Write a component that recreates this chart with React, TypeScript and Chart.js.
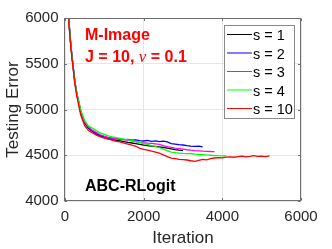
import React, { useEffect, useRef } from "react";
import { Chart, registerables } from "chart.js";

Chart.register(...registerables);

const iterations = [
  20, 50, 100, 150, 200, 250, 300, 400, 500, 600, 700, 800, 900, 1000,
  1100, 1200, 1300, 1400, 1500, 1600, 1700, 1800, 1900, 2000,
  2100, 2200, 2300, 2400, 2500, 2600, 2700, 2800, 2900, 3000,
  3100, 3200, 3300, 3400, 3500, 3600, 3700, 3800, 3900, 4000,
  4100, 4200, 4300, 4400, 4500, 4600, 4700, 4800, 4900, 5000,
  5100, 5200,
];

const seriesLabels = ["s = 1", "s = 2", "s = 3", "s = 4", "s = 10"];
const seriesColors = ["#000000", "#0000ff", "#ff00ff", "#00ff00", "#ff0000"];

const errS1 = [
  7600, 6700, 5950, 5690, 5490, 5300, 5170, 4965, 4850, 4795, 4760, 4730, 4712, 4694,
  4680, 4672, 4662, 4656, 4648, 4640, 4634, 4628, 4620, 4610,
  4606, 4600, 4597, 4590, 4586, 4578, 4570, 4562, 4556, 4552,
];
const errS2 = [
  7620, 6720, 5970, 5700, 5500, 5310, 5180, 4980, 4860, 4800, 4765, 4738, 4714, 4700,
  4690, 4684, 4678, 4676, 4670, 4672, 4666, 4668, 4660, 4656,
  4662, 4652, 4658, 4650, 4654, 4645, 4628, 4622, 4615, 4612,
  4605, 4600, 4596, 4600, 4592,
];
const errS3 = [
  7610, 6710, 5965, 5695, 5495, 5305, 5178, 4985, 4867, 4806, 4773, 4748, 4724, 4708,
  4696, 4688, 4682, 4676, 4670, 4664, 4657, 4650, 4640, 4636,
  4632, 4630, 4625, 4618, 4605, 4595, 4585, 4578, 4572, 4566,
  4560, 4555, 4551, 4548, 4545, 4543, 4541, 4540,
];
const errS4 = [
  7600, 6690, 5955, 5690, 5495, 5305, 5180, 4995, 4878, 4818, 4795, 4766, 4745, 4728,
  4712, 4702, 4692, 4684, 4676, 4668, 4660, 4650, 4640, 4628,
  4618, 4606, 4596, 4582, 4568, 4550, 4535, 4528, 4524, 4520,
  4517, 4519, 4513, 4510, 4507, 4503, 4500, 4497, 4495, 4494,
  4493,
];
const errS10 = [
  7580, 6650, 5930, 5670, 5470, 5280, 5145, 4940, 4822, 4770, 4744, 4720, 4702, 4688,
  4675, 4666, 4652, 4645, 4632, 4622, 4612, 4598, 4575, 4565,
  4556, 4545, 4535, 4522, 4505, 4485, 4468, 4462, 4456, 4452,
  4448, 4440, 4433, 4445, 4455, 4450, 4462, 4470, 4475, 4472,
  4480, 4482, 4478, 4486, 4490, 4482, 4488, 4495, 4487, 4490,
  4486, 4494,
];
const seriesValues = [errS1, errS2, errS3, errS4, errS10];

const xTicks = [0, 2000, 4000, 6000];
const yTicks = [4000, 4500, 5000, 5500, 6000];

const FONT = "'Liberation Sans', Arial, Helvetica, sans-serif";
const AXIS_COLOR = "#6e6e6e";
const TEXT_COLOR = "#262626";

const boxPlugin = {
  id: "boxPlugin",
  afterDatasetsDraw(chart: any) {
    const { ctx, chartArea } = chart;
    const { left, right, top, bottom } = chartArea;
    const xs = chart.scales.x;
    const ys = chart.scales.y;
    ctx.save();
    ctx.strokeStyle = AXIS_COLOR;
    ctx.lineWidth = 1;
    const l = Math.round(left) - 0.5;
    const r = Math.round(right) - 0.5;
    const t = Math.round(top) + 0.5;
    const b = Math.round(bottom) - 0.5;
    ctx.strokeRect(l, t, r - l, b - t);
    const tl = 2.5;
    ctx.beginPath();
    xTicks.forEach((v) => {
      const px = Math.round(xs.getPixelForValue(v)) + 0.5;
      ctx.moveTo(px, b);
      ctx.lineTo(px, b - tl);
      ctx.moveTo(px, t);
      ctx.lineTo(px, t + tl);
    });
    yTicks.forEach((v) => {
      const py = Math.round(ys.getPixelForValue(v)) + 0.5;
      ctx.moveTo(l, py);
      ctx.lineTo(l + tl, py);
      ctx.moveTo(r, py);
      ctx.lineTo(r - tl, py);
    });
    ctx.stroke();
    ctx.restore();
  },
  afterDraw(chart: any) {
    const { ctx, chartArea } = chart;
    const x0 = chartArea.left + 20;
    ctx.save();
    ctx.textBaseline = "alphabetic";
    ctx.textAlign = "left";
    ctx.fillStyle = "#ff0000";
    ctx.font = `bold 16px ${FONT}`;
    ctx.fillText("M-Image", x0, 39.5);
    let cx = x0;
    const part1 = "J = 10, ";
    ctx.fillText(part1, cx, 61.5);
    cx += ctx.measureText(part1).width;
    ctx.font = `italic 17px 'Liberation Serif', 'Times New Roman', serif`;
    ctx.fillText("ν", cx, 61.5);
    cx += ctx.measureText("ν").width;
    ctx.font = `bold 16px ${FONT}`;
    ctx.fillText(" = 0.1", cx, 61.5);
    ctx.fillStyle = "#000000";
    ctx.fillText("ABC-RLogit", x0, 190.5);

    const bx = 224.5;
    const by = 25.5;
    const bw = 70;
    const bh = 93;
    ctx.fillStyle = "#ffffff";
    ctx.fillRect(bx, by, bw, bh);
    ctx.strokeStyle = "#8a8a8a";
    ctx.lineWidth = 1;
    ctx.strokeRect(bx, by, bw, bh);
    ctx.font = `14.5px ${FONT}`;
    ctx.textBaseline = "middle";
    chart.data.datasets.forEach((ds: any, i: number) => {
      const ry = 34.5 + i * 18.5;
      ctx.strokeStyle = ds.borderColor;
      ctx.beginPath();
      ctx.moveTo(227, ry);
      ctx.lineTo(252, ry);
      ctx.stroke();
      ctx.fillStyle = "#000000";
      ctx.fillText(ds.label, 253, ry + 1.5);
    });
    ctx.restore();
  },
};

export default function App() {
  const canvasRef = useRef<HTMLCanvasElement | null>(null);

  useEffect(() => {
    if (!canvasRef.current) return;
    const datasets = seriesValues.map((vals, si) => ({
      label: seriesLabels[si],
      data: vals.map((v, i) => ({ x: iterations[i], y: v })),
      borderColor: seriesColors[si],
      backgroundColor: seriesColors[si],
      borderWidth: 1.3,
      pointRadius: 0,
      fill: false,
      tension: 0,
      order: seriesValues.length - si,
    }));
    const chart = new Chart(canvasRef.current, {
      type: "line",
      data: { datasets },
      plugins: [boxPlugin],
      options: {
        animation: false,
        responsive: false,
        maintainAspectRatio: false,
        devicePixelRatio: 1,
        layout: { padding: { left: 0, top: 18, right: 31, bottom: 0 } },
        plugins: { legend: { display: false }, tooltip: { enabled: false } },
        scales: {
          x: {
            type: "linear",
            min: 0,
            max: 6000,
            afterBuildTicks: (s: any) => {
              s.ticks = xTicks.map((v) => ({ value: v }));
            },
            ticks: {
              font: { family: FONT, size: 15 },
              color: TEXT_COLOR,
              padding: 7,
              maxRotation: 0,
              callback: (v: any) => String(v),
            },
            grid: { color: "#e6e6e6", drawTicks: false, lineWidth: 1 },
            border: { display: false },
            title: {
              display: true,
              text: "Iteration",
              font: { family: FONT, size: 17 },
              color: TEXT_COLOR,
              padding: { top: 0, bottom: 0 },
            },
            afterFit: (s: any) => {
              s.height = 48;
            },
          },
          y: {
            type: "linear",
            min: 4000,
            max: 6000,
            afterBuildTicks: (s: any) => {
              s.ticks = yTicks.map((v) => ({ value: v }));
            },
            ticks: {
              font: { family: FONT, size: 15 },
              color: TEXT_COLOR,
              padding: 6.5,
              callback: (v: any) => String(v),
            },
            grid: { color: "#e6e6e6", drawTicks: false, lineWidth: 1 },
            border: { display: false },
            title: {
              display: true,
              text: "Testing Error",
              font: { family: FONT, size: 17 },
              color: TEXT_COLOR,
              padding: { top: 3, bottom: 0 },
            },
            afterFit: (s: any) => {
              s.width = 65;
            },
          },
        },
      },
    });
    return () => chart.destroy();
  }, []);

  return (
    <div style={{ position: "absolute", left: 0, top: 0, width: 332, height: 249, background: "#fff" }}>
      <canvas ref={canvasRef} width={332} height={249} style={{ display: "block", width: 332, height: 249 }} />
    </div>
  );
}
